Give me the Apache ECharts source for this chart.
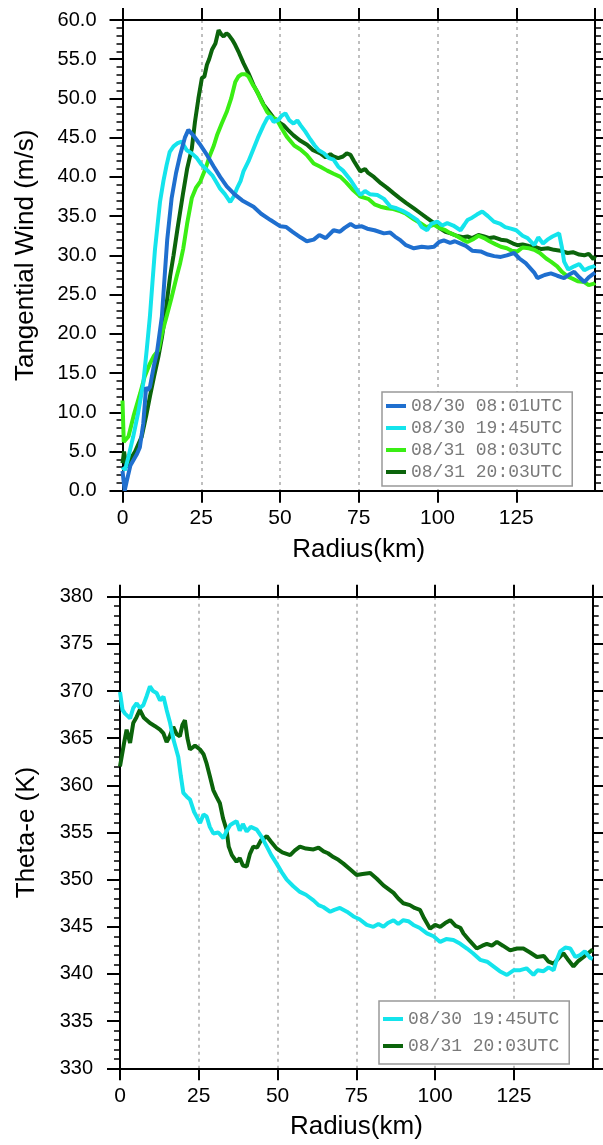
<!DOCTYPE html>
<html>
<head>
<meta charset="utf-8">
<script src="https://cdn.jsdelivr.net/npm/echarts@6/dist/echarts.min.js"></script>
<style>
  html, body { margin: 0; padding: 0; background: #fff; }
  #chart { width: 603px; height: 1145px; }
</style>
</head>
<body>
<div id="chart"></div>
<script>
// series names / legend labels
const names = ['08/30 08:01UTC', '08/30 19:45UTC', '08/31 08:03UTC', '08/31 20:03UTC']
const colors = ['#1f6fcf', '#14e4ec', '#3aee14', '#0b640b']

// x ticks (km)
const radiusTicks = [0, 25, 50, 75, 100, 125, 150]

// --- tangential wind (m/s) vs radius (km) ---
const wind0830a = [[0,2.5],[0.7,0],[1.5,1.5],[2.5,3.2],[4.5,4.6],[5.5,5.5],[6.6,8.6],[7.5,13.2],[8,12.8],[8.7,13.2],[10,16],[10.9,17.5],[12.5,22.2],[13.5,28],[14.2,32],[15.6,37.3],[17,40.5],[18.3,42.8],[19.8,45],[20.9,46.0],[22.5,45.3],[24.5,44.2],[26.8,42.8],[29,41.3],[31,40],[33.1,38.8],[35.5,37.8],[38,37],[41.6,36.2],[44,35.3],[47,34.5],[50.1,33.7],[52,33.6],[54,33],[56.5,32.3],[58.5,31.8],[60.7,32.0],[62.5,32.6],[64.5,32.2],[67,33.2],[69,33],[70.5,33.5],[72.4,34.0],[74,33.6],[76,33.7],[77.7,33.4],[80,33.2],[83,32.8],[85,32.9],[86.5,32.4],[88.3,31.9],[90,31.3],[92.5,30.9],[95,31.1],[97,31.0],[98.9,31.1],[100.5,31.7],[102,31.9],[104,31.6],[105.5,31.8],[107.3,31.5],[109,31.2],[111,30.6],[113.7,30.5],[116,30.1],[118,29.9],[120.1,29.8],[122,30.0],[124.3,30.3],[126,29.6],[128,29.0],[130.7,27.8],[131.7,27.1],[134,27.5],[136,27.7],[138,27.4],[140.2,27.1],[142,27.6],[143.4,27.9],[145,27.2],[146.6,26.6],[148,27.2],[149.7,27.7],[150,27.8]]
const wind0830b = [[0,3],[0.8,2.6],[2,4.5],[3.4,6.9],[5,10],[6.6,13.7],[7.7,18],[8.7,22.2],[9.5,26.5],[10.3,30.7],[11.9,36.8],[13,39.5],[14,41.5],[15,43.2],[16.2,43.9],[17.5,44.3],[18.8,44.5],[19.5,44.0],[20.4,43.4],[22,43.0],[23.6,42.4],[25,41.6],[26.8,40.9],[28.5,40.2],[30,39.2],[31,38.5],[32.5,37.8],[34.2,36.8],[35.3,37.5],[36.3,38.5],[37.5,39.5],[38.4,40.7],[40,42.0],[41.6,43.6],[43,45],[44.8,46.6],[46,47.5],[46.9,47.7],[48,47.0],[49.6,47.3],[50.5,47.8],[51.7,48.1],[53,47.2],[54.3,46.8],[55.5,47.2],[56.5,46.6],[58,45.8],[59.6,44.8],[61,44],[62.3,43.4],[64,43.0],[65.5,42.4],[67,42.2],[68.5,41.3],[70,40.8],[72.4,39.6],[74,38.6],[75.5,37.7],[77,38.2],[78.5,37.8],[80.9,37.7],[83,37.2],[85.1,36.2],[87,36.0],[89.3,35.6],[91,35.2],[93.6,34.5],[95,33.6],[96.7,33.2],[98,34],[99.9,34.3],[101.5,33.8],[103.1,34.1],[105,33.8],[107.3,33.2],[108.5,33.9],[109.5,34.5],[111,34.8],[112.5,35.2],[114.2,35.6],[116,35.0],[117.9,34.3],[120,34.0],[121.5,33.6],[123.3,33.4],[125,33.2],[127,32.5],[128.6,32.2],[130.7,31.3],[132,32.3],[133.5,31.5],[134.9,32.0],[136.5,32.4],[138.6,32.8],[139.5,31.0],[140.2,29.2],[141.5,28.2],[143.4,28.6],[145,28.9],[146.6,28.1],[148,28.4],[149.7,28.6],[150,28.7]]
const wind0831a = [[0,11.5],[0.4,6.2],[1.9,6.9],[3.5,9.5],[5.6,12.4],[7,14.5],[8.7,16.2],[10,17.2],[11.4,17.9],[12.5,20],[14,22.2],[15.5,24.5],[17.2,27.3],[18.3,29],[19.3,30.9],[20.5,34],[22,37.3],[23.3,38.6],[24.7,39.4],[26.3,41],[27.8,42.8],[29,44],[30,45.3],[31.5,46.8],[33.1,48.3],[34.5,50],[35.8,52.1],[36.8,52.8],[37.9,53.1],[39,53.1],[40,52.8],[41.3,51.8],[42.7,50.9],[44.3,49.5],[45.9,48.3],[47.5,47.6],[49,47.3],[50.5,46.2],[52.2,45.1],[54.5,44.0],[56.5,43.5],[58.5,42.8],[60.7,41.7],[62.8,41.3],[65,40.8],[67,40.4],[69.2,40.0],[71,39.3],[73,38.4],[75.5,37.5],[78,37.2],[80,36.5],[81.9,36.2],[84,36.0],[86,35.9],[88.3,35.6],[90,35.3],[92.5,34.6],[94.6,34.1],[96.5,33.6],[98.9,33.9],[100.5,33.5],[102.5,33.2],[104.2,32.8],[106,32.5],[108,32.0],[109.5,31.7],[111.5,32.1],[113,32.5],[114.8,32.2],[116.5,31.8],[118.5,31.4],[120.1,31.1],[122,30.9],[123.5,30.6],[125.4,30.5],[127,31.0],[129,30.9],[130.7,30.7],[132.5,30.3],[134.5,29.6],[136,29.2],[138,28.6],[139.5,27.9],[141.3,27.3],[143,27.0],[144.5,26.7],[146.6,26.6],[148,26.2],[149.7,26.4],[150,26.5]]
const wind0831b = [[0,3.5],[0.5,5],[1.2,3],[2.5,4],[4,5],[6.1,6.9],[7.5,9.5],[8.7,12],[10,14.5],[11.4,17.1],[12.5,19.5],[13.5,22.2],[14.3,24.8],[15.1,27.3],[16.2,30.0],[17.5,33.5],[19.3,38.1],[20.5,41],[22,43.6],[23,47],[24.1,50.0],[25.2,52.6],[26,52.8],[26.8,54.3],[27.5,55],[28.4,56.2],[29.5,57.0],[30.5,58.7],[31.3,58.2],[32.1,57.9],[33,58.3],[33.7,58.1],[34.8,57.5],[35.8,56.8],[37,55.8],[38.4,54.5],[40,53.2],[41.6,51.7],[43.2,50.5],[44.8,49.2],[46.5,48.3],[48,47.5],[49.5,47.0],[51.1,46.6],[52.5,46.0],[54.3,45.3],[56.5,44.6],[58.6,44.1],[60.5,43.4],[62.8,43.0],[64.5,42.5],[66,42.9],[67,42.6],[68.5,42.4],[70,42.6],[71.2,43.0],[72.4,42.8],[73.5,42.0],[75.5,40.7],[77,41.0],[78,40.5],[79.8,40.0],[82,39.2],[84,38.6],[86.1,37.9],[88,37.3],[90,36.7],[92.5,36.0],[94.5,35.4],[96.5,34.8],[98.9,34.1],[100.5,33.5],[102.5,33.0],[104.2,32.8],[106,32.5],[108,32.3],[109.5,32.4],[111,32.2],[113,32.6],[114.8,32.4],[116.5,32.2],[118,32.3],[120.1,32.0],[122,31.9],[124,31.5],[125.4,31.3],[127,31.4],[129,31.2],[130.7,31.1],[133,30.8],[135,30.9],[137,30.7],[139,30.6],[141.3,30.3],[143,30.4],[145,30.1],[146.6,30.0],[148,30.2],[149.5,29.5],[150,29.9]]

// --- theta-e (K) vs radius (km), bottom panel ---
const thetaE0830b = [[0,369.9],[0.8,368],[1.6,367.6],[3.2,367.1],[4.2,368.2],[5.3,368.7],[6.3,368.2],[7.4,368.5],[8.5,369.5],[9.5,370.5],[10.5,370.0],[11.6,369.8],[12.7,369.0],[13.8,369.4],[14.8,368.0],[15.9,366.6],[17,364.8],[18.5,363.0],[19.3,361.0],[20.1,359.2],[21.2,358.8],[22.2,358.5],[23.5,357.2],[25.4,356.0],[26.5,356.9],[27.5,356.7],[28.5,355.6],[29.6,354.9],[31.2,355.0],[32.8,354.4],[33.9,355.2],[35,355.8],[36,356.0],[37,356.2],[38,355.2],[39,355.9],[40.2,355.1],[41.5,355.6],[43.4,355.3],[45,354.5],[46.6,353.5],[48,352.6],[49.7,351.7],[51.3,350.8],[52.9,350.0],[55,349.3],[57.1,348.7],[59,348.4],[61.4,347.8],[63,347.3],[64.5,347.1],[66.7,346.6],[68,346.8],[69.8,347.0],[72,346.6],[74.1,346.1],[76,345.8],[78.3,345.2],[80.4,345.0],[82,345.3],[83.6,345.0],[85,345.4],[86.8,345.7],[88.3,345.3],[89.9,345.7],[91.5,345.6],[93.1,345.2],[95,344.9],[97.4,344.3],[99.5,344.0],[101.6,343.4],[103.5,343.7],[105.8,343.6],[108,343.2],[110.1,342.7],[112,342.2],[114.3,341.5],[116.5,341.3],[118.5,340.8],[120.5,340.3],[122.8,339.9],[125,340.4],[127,340.4],[129,340.6],[131.2,339.9],[132.5,340.4],[134.4,340.3],[136,340.7],[137.6,340.4],[138.5,341.4],[139.7,342.4],[141.3,342.8],[142.9,342.7],[144.5,341.8],[146,342.0],[147.5,342.4],[149.2,341.7],[150,341.6]]
const thetaE0831b = [[0,362.0],[0.5,362.2],[1.3,364.5],[2.1,365.9],[3.2,364.5],[4.2,366.6],[5.2,367.2],[6.3,368.0],[7.5,367.2],[8.5,366.9],[9.5,366.6],[11,366.3],[12.7,365.9],[13.8,365.5],[14.8,364.6],[15.8,365.2],[16.9,366.2],[18,365.4],[19,365.2],[19.8,366.4],[20.6,366.9],[21.4,365.0],[22.2,363.8],[23.8,364.2],[25.4,363.8],[26.5,363.3],[27.5,362.3],[28.5,361.0],[29.6,359.5],[30.6,358.8],[31.7,358.1],[32.7,356.5],[33.8,355.3],[34.5,353.5],[35.5,352.6],[37,351.9],[38,352.3],[39,351.5],[40.2,351.4],[41.2,352.7],[42.3,353.5],[43.5,353.4],[44.8,354.2],[46.6,354.6],[48,354.0],[49.7,353.3],[51.5,352.9],[54,352.6],[55.5,353.1],[57.1,353.5],[59,353.3],[61.4,353.2],[63,353.4],[64.6,353.0],[66,352.8],[67.7,352.4],[69.3,352.1],[70.9,351.7],[73,351.1],[75.1,350.5],[77,350.6],[79.4,350.7],[81.5,350.1],[83.6,349.4],[85.2,349.0],[86.8,348.6],[88.3,348.0],[89.9,347.5],[92,347.3],[93.5,347.0],[95.2,346.8],[96.5,345.9],[98.4,344.8],[100,345.2],[101.6,345.0],[103.2,345.4],[104.8,345.7],[106.5,345.1],[108,344.9],[109,344.3],[111,343.5],[113.2,342.7],[115,343.0],[116.4,343.2],[118,343.0],[119.6,343.4],[121.5,343.0],[123.8,342.5],[126,342.7],[128,342.7],[130,342.3],[132.3,341.8],[134.5,341.9],[136,341.3],[137.6,341.1],[139,341.6],[140.7,342.2],[142,341.6],[143.9,340.8],[145.5,341.4],[147.1,341.8],[148.5,342.2],[149.7,342.5],[150,342.6]]

const font = '"Liberation Sans", Arial, sans-serif'
const monoFont = '"Liberation Mono", "DejaVu Sans Mono", monospace'

// shared axis pieces
const frameLine = { show: true, onZero: false, lineStyle: { color: '#000', width: 2 } }
const majorTick = (len) => ({ show: true, length: len, lineStyle: { color: '#000', width: 2 } })
const minorTick = { show: true, splitNumber: 5, length: 6, lineStyle: { color: '#000', width: 1.5 } }

const xBottom = (gridIndex) => ({
  type: 'value', gridIndex, position: 'bottom',
  min: radiusTicks[0], max: radiusTicks[radiusTicks.length - 1], interval: 25,
  axisLine: frameLine,
  axisTick: majorTick(12),
  axisLabel: { margin: 17, fontSize: 21, color: '#000', fontFamily: font, showMaxLabel: false },
  splitLine: { show: true, lineStyle: { color: '#aaa', width: 1.5, type: [3, 4] } },
  name: 'Radius(km)', nameLocation: 'middle', nameGap: 46,
  nameTextStyle: { fontSize: 26, color: '#000', fontFamily: font },
})
const xTop = (gridIndex) => ({
  type: 'value', gridIndex, position: 'top',
  min: 0, max: 150, interval: 25,
  axisLine: frameLine, axisTick: majorTick(12),
  axisLabel: { show: false }, splitLine: { show: false },
})
const yRight = (gridIndex, min, max) => ({
  type: 'value', gridIndex, position: 'right', min, max, interval: 5,
  axisLine: frameLine, axisTick: majorTick(13), minorTick,
  axisLabel: { show: false }, splitLine: { show: false },
})

const lineSeries = (name, data, color, xi, yi, z) => ({
  name, type: 'line', data, xAxisIndex: xi, yAxisIndex: yi, z,
  showSymbol: false, symbol: 'none', smooth: false, silent: true,
  lineStyle: { color, width: 4 }, itemStyle: { color },
})

const legendBase = {
  orient: 'vertical', selectedMode: false, icon: 'rect',
  itemWidth: 20, itemHeight: 4,
  backgroundColor: '#fff', borderColor: '#999', borderWidth: 1.5,
  textStyle: { fontFamily: monoFont, fontSize: 18, lineHeight: 18, color: '#7a7a7a' },
}

const chart = echarts.init(document.getElementById('chart'), null, { renderer: 'canvas' })
chart.setOption({
  backgroundColor: '#fff',
  animation: false,
  grid: [
    { left: 122.5, top: 20, width: 472.5, height: 470.7 },
    { left: 120, top: 596.7, width: 472.7, height: 471.6 },
  ],
  xAxis: [xBottom(0), xTop(0), xBottom(1), xTop(1)],
  yAxis: [
    {
      type: 'value', gridIndex: 0, position: 'left', min: 0, max: 60, interval: 5,
      axisLine: frameLine, axisTick: majorTick(13), minorTick,
      axisLabel: { margin: 26, fontSize: 20, color: '#000', fontFamily: font, formatter: (v) => v.toFixed(1) },
      splitLine: { show: false },
      name: 'Tangential Wind (m/s)', nameLocation: 'middle', nameGap: 84,
      nameTextStyle: { fontSize: 26, color: '#000', fontFamily: font },
    },
    yRight(0, 0, 60),
    {
      type: 'value', gridIndex: 1, position: 'left', min: 330, max: 380, interval: 5,
      axisLine: frameLine, axisTick: majorTick(13), minorTick,
      axisLabel: { margin: 27, fontSize: 20, color: '#000', fontFamily: font },
      splitLine: { show: false },
      name: 'Theta-e (K)', nameLocation: 'middle', nameGap: 80,
      nameTextStyle: { fontSize: 26, color: '#000', fontFamily: font },
    },
    yRight(1, 330, 380),
  ],
  legend: [
    { ...legendBase, left: 382, top: 392, itemGap: 4, padding: [5, 10, 5, 4], data: names },
    { ...legendBase, left: 379, top: 1001, itemGap: 9, padding: [9, 10, 9, 4], data: [names[1], names[3]] },
  ],
  series: [
    lineSeries(names[3], wind0831b, colors[3], 0, 0, 2),
    lineSeries(names[2], wind0831a, colors[2], 0, 0, 3),
    lineSeries(names[1], wind0830b, colors[1], 0, 0, 4),
    lineSeries(names[0], wind0830a, colors[0], 0, 0, 5),
    lineSeries(names[3], thetaE0831b, colors[3], 2, 2, 2),
    lineSeries(names[1], thetaE0830b, colors[1], 2, 2, 3),
  ],
})
</script>
</body>
</html>
